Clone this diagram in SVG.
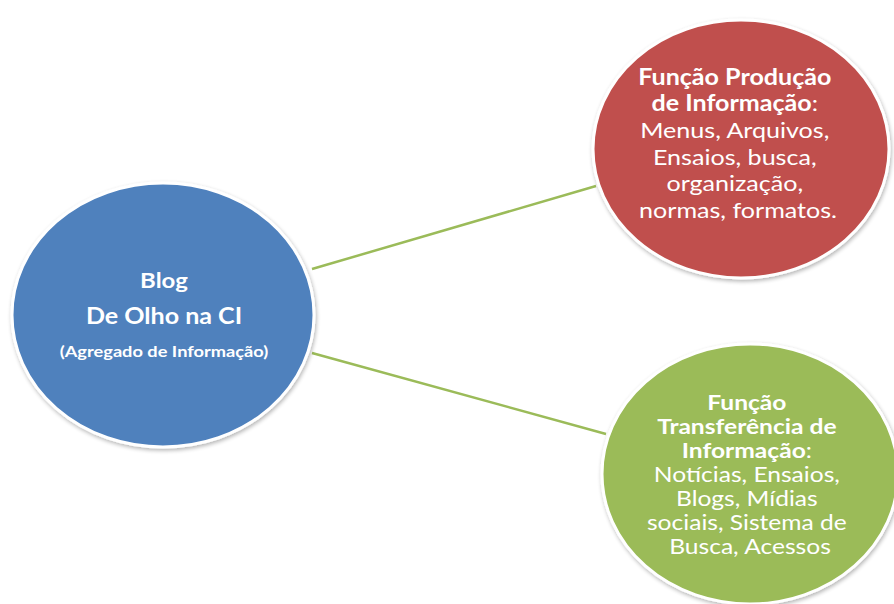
<svg xmlns="http://www.w3.org/2000/svg" width="894" height="604" viewBox="0 0 894 604">
<defs>
<style>
.node{stroke:#ffffff;stroke-width:3}
.t{font-family:Lato,"Open Sans","DejaVu Sans",sans-serif;fill:#ffffff;text-anchor:middle}
.b{font-weight:bold}
.conn{stroke:#9BBB59;stroke-width:2.5;fill:none}
</style>
<filter id="sh" x="-10%" y="-10%" width="125%" height="125%">
<feGaussianBlur in="SourceAlpha" stdDeviation="2"/>
<feOffset dx="1" dy="2" result="o"/>
<feComponentTransfer><feFuncA type="linear" slope="0.3"/></feComponentTransfer>
<feMerge><feMergeNode/><feMergeNode in="SourceGraphic"/></feMerge>
</filter>
</defs>
<rect width="894" height="604" fill="#ffffff"/>
<g id="connectors">
<line class="conn" x1="312" y1="269" x2="596" y2="186"/>
<line class="conn" x1="312" y1="353" x2="606" y2="434"/>
</g>
<g id="node-blog">
<ellipse class="node" cx="163" cy="315" rx="151" ry="132" fill="#4F81BD" filter="url(#sh)"/>
<g transform="translate(164,0) scale(1.14,1)">
<text class="t b" x="0" y="288" font-size="21">Blog</text>
<text class="t b" x="0" y="324" font-size="22">De Olho na CI</text>
<text class="t b" x="0" y="357" font-size="16">(Agregado de Informação)</text>
</g>
</g>
<g id="node-producao">
<ellipse class="node" cx="741" cy="149" rx="148" ry="129" fill="#C0504D" filter="url(#sh)"/>
<g transform="translate(738,0) scale(1.14,1)">
<text class="t" font-size="22">
<tspan class="b" x="0" y="85">Função Produção</tspan>
<tspan x="0" y="111"><tspan class="b">de Informação</tspan>:</tspan>
<tspan x="0" y="138">Menus, Arquivos,</tspan>
<tspan x="0" y="165">Ensaios, busca,</tspan>
<tspan x="0" y="191">organização,</tspan>
<tspan x="0" y="218">normas, formatos.</tspan>
</text>
</g>
</g>
<g id="node-transferencia">
<ellipse class="node" cx="750" cy="474" rx="148" ry="130" fill="#9BBB59" filter="url(#sh)"/>
<g transform="translate(750,0) scale(1.2,1)">
<text class="t" font-size="20.5">
<tspan class="b" x="0" y="410">Função</tspan>
<tspan class="b" x="0" y="434">Transferência de</tspan>
<tspan x="0" y="458"><tspan class="b">Informação</tspan>:</tspan>
<tspan x="0" y="482">Notícias, Ensaios,</tspan>
<tspan x="0" y="506">Blogs, Mídias</tspan>
<tspan x="0" y="530">sociais, Sistema de</tspan>
<tspan x="0" y="554">Busca, Acessos</tspan>
</text>
</g>
</g>
</svg>
